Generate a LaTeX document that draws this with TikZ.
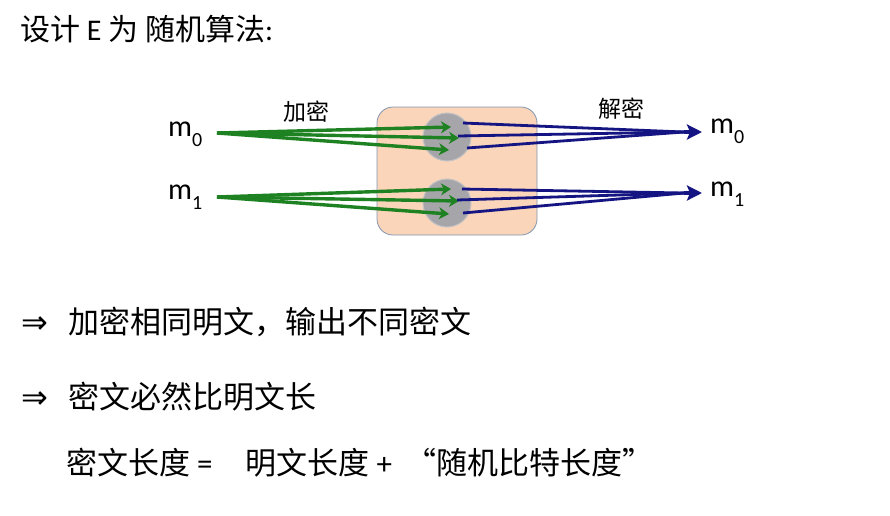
\documentclass[tikz,border=0pt]{standalone}
\usepackage{fontspec}
\setmainfont{Carlito}
\newfontfamily\cjk{Noto Sans CJK SC}
\newfontfamily\arrowfont{DejaVu Sans}
\usetikzlibrary{arrows.meta}
\definecolor{grn}{RGB}{30,130,35}
\definecolor{nav}{RGB}{20,20,130}
\definecolor{peach}{RGB}{250,213,185}
\definecolor{boxedge}{RGB}{130,150,175}
\definecolor{cgray}{RGB}{166,166,170}
\definecolor{cedge}{RGB}{195,195,198}
\tikzset{
  big/.style={font=\cjk\fontsize{31}{36}\selectfont, inner sep=0pt, anchor=west},
  tbig/.style={font=\cjk\fontsize{30}{35}\selectfont, inner sep=0pt, anchor=west},
  lbl/.style={font=\cjk\fontsize{23}{26}\selectfont, inner sep=0pt},
  mlab/.style={font=\fontsize{30}{32}\selectfont, inner sep=0pt, anchor=west},
  encbox/.style={draw=boxedge, line width=0.8pt, fill=peach, rounded corners=16pt, minimum width=160pt, minimum height=128pt},
  ball/.style={circle, draw=cedge, line width=1pt, fill=cgray, minimum size=48pt, inner sep=0pt},
  garrow/.style={grn, line width=3.4pt, -{Stealth[length=10pt,width=12pt,inset=3pt]}},
  bline/.style={nav, line width=2.8pt},
  barrow/.style={nav, line width=3.6pt, -{Stealth[length=15pt,width=15pt,inset=3pt]}},
}
\newcommand{\msub}[1]{m\raisebox{-0.33em}{\fontsize{20}{20}\selectfont #1}}
\newcommand{\impl}{{\arrowfont\fontsize{32}{36}\selectfont ⇒}\hspace{20pt}}
\begin{document}
\begin{tikzpicture}[x=1pt,y=-1pt]
\useasboundingbox (0,0) rectangle (890,515);
% title
\node[tbig] (title) at (20,29) {设计 {\fontspec{Carlito}E} 为 随机算法{\fontspec{Carlito}:}};
% box and circles
\node[encbox] (bx) at (457,171) {};
\node[ball] (c0) at (447,137) {};
\node[ball] (c1) at (447,203) {};
% labels
\node[mlab] (l0) at (168,134) {\msub{0}};
\node[mlab] (l1) at (168,197) {\msub{1}};
\node[mlab] (r0) at (710,131) {\msub{0}};
\node[mlab] (r1) at (710,194) {\msub{1}};
\node[lbl] (enc) at (306,112) {加密};
\node[lbl] (dec) at (621,109) {解密};
% coordinates
\coordinate (s0) at (217,133);
\coordinate (s1) at (217,197);
\coordinate (t0) at (702,132);
\coordinate (t1) at (702,193);
\coordinate (j0) at (684,132);
\coordinate (j1) at (684,193);
% green arrows
\draw[garrow] (s0) -- ([shift={(4,-10)}]c0.center);
\draw[garrow] (s0) -- ([shift={(12,1)}]c0.center);
\draw[garrow] (s0) -- ([shift={(2,13)}]c0.center);
\draw[garrow] (s1) -- ([shift={(4,-14)}]c1.center);
\draw[garrow] (s1) -- ([shift={(12,-2)}]c1.center);
\draw[garrow] (s1) -- ([shift={(2,11)}]c1.center);
% blue lines
\draw[bline] ([shift={(16,-14)}]c0.center) -- (j0);
\draw[bline] ([shift={(11,-1)}]c0.center) -- (j0);
\draw[bline] ([shift={(20,11)}]c0.center) -- (j0);
\draw[barrow] (j0) -- (t0);
\draw[bline] ([shift={(15,-14)}]c1.center) -- (j1);
\draw[bline] ([shift={(10,-3)}]c1.center) -- (j1);
\draw[bline] ([shift={(16,10)}]c1.center) -- (j1);
\draw[barrow] (j1) -- (t1);
% bullet lines
\node[big] (a1) at (21,322) {\impl 加密相同明文，输出不同密文};
\node[big] (a2) at (21,397) {\impl 密文必然比明文长};
\node[big] (a3) at (66,463) {密文长度 {\fontspec{Carlito}=}\hspace{33pt}明文长度 {\fontspec{Carlito}+}\hspace{14pt}“随机比特长度”};
\end{tikzpicture}
\end{document}
